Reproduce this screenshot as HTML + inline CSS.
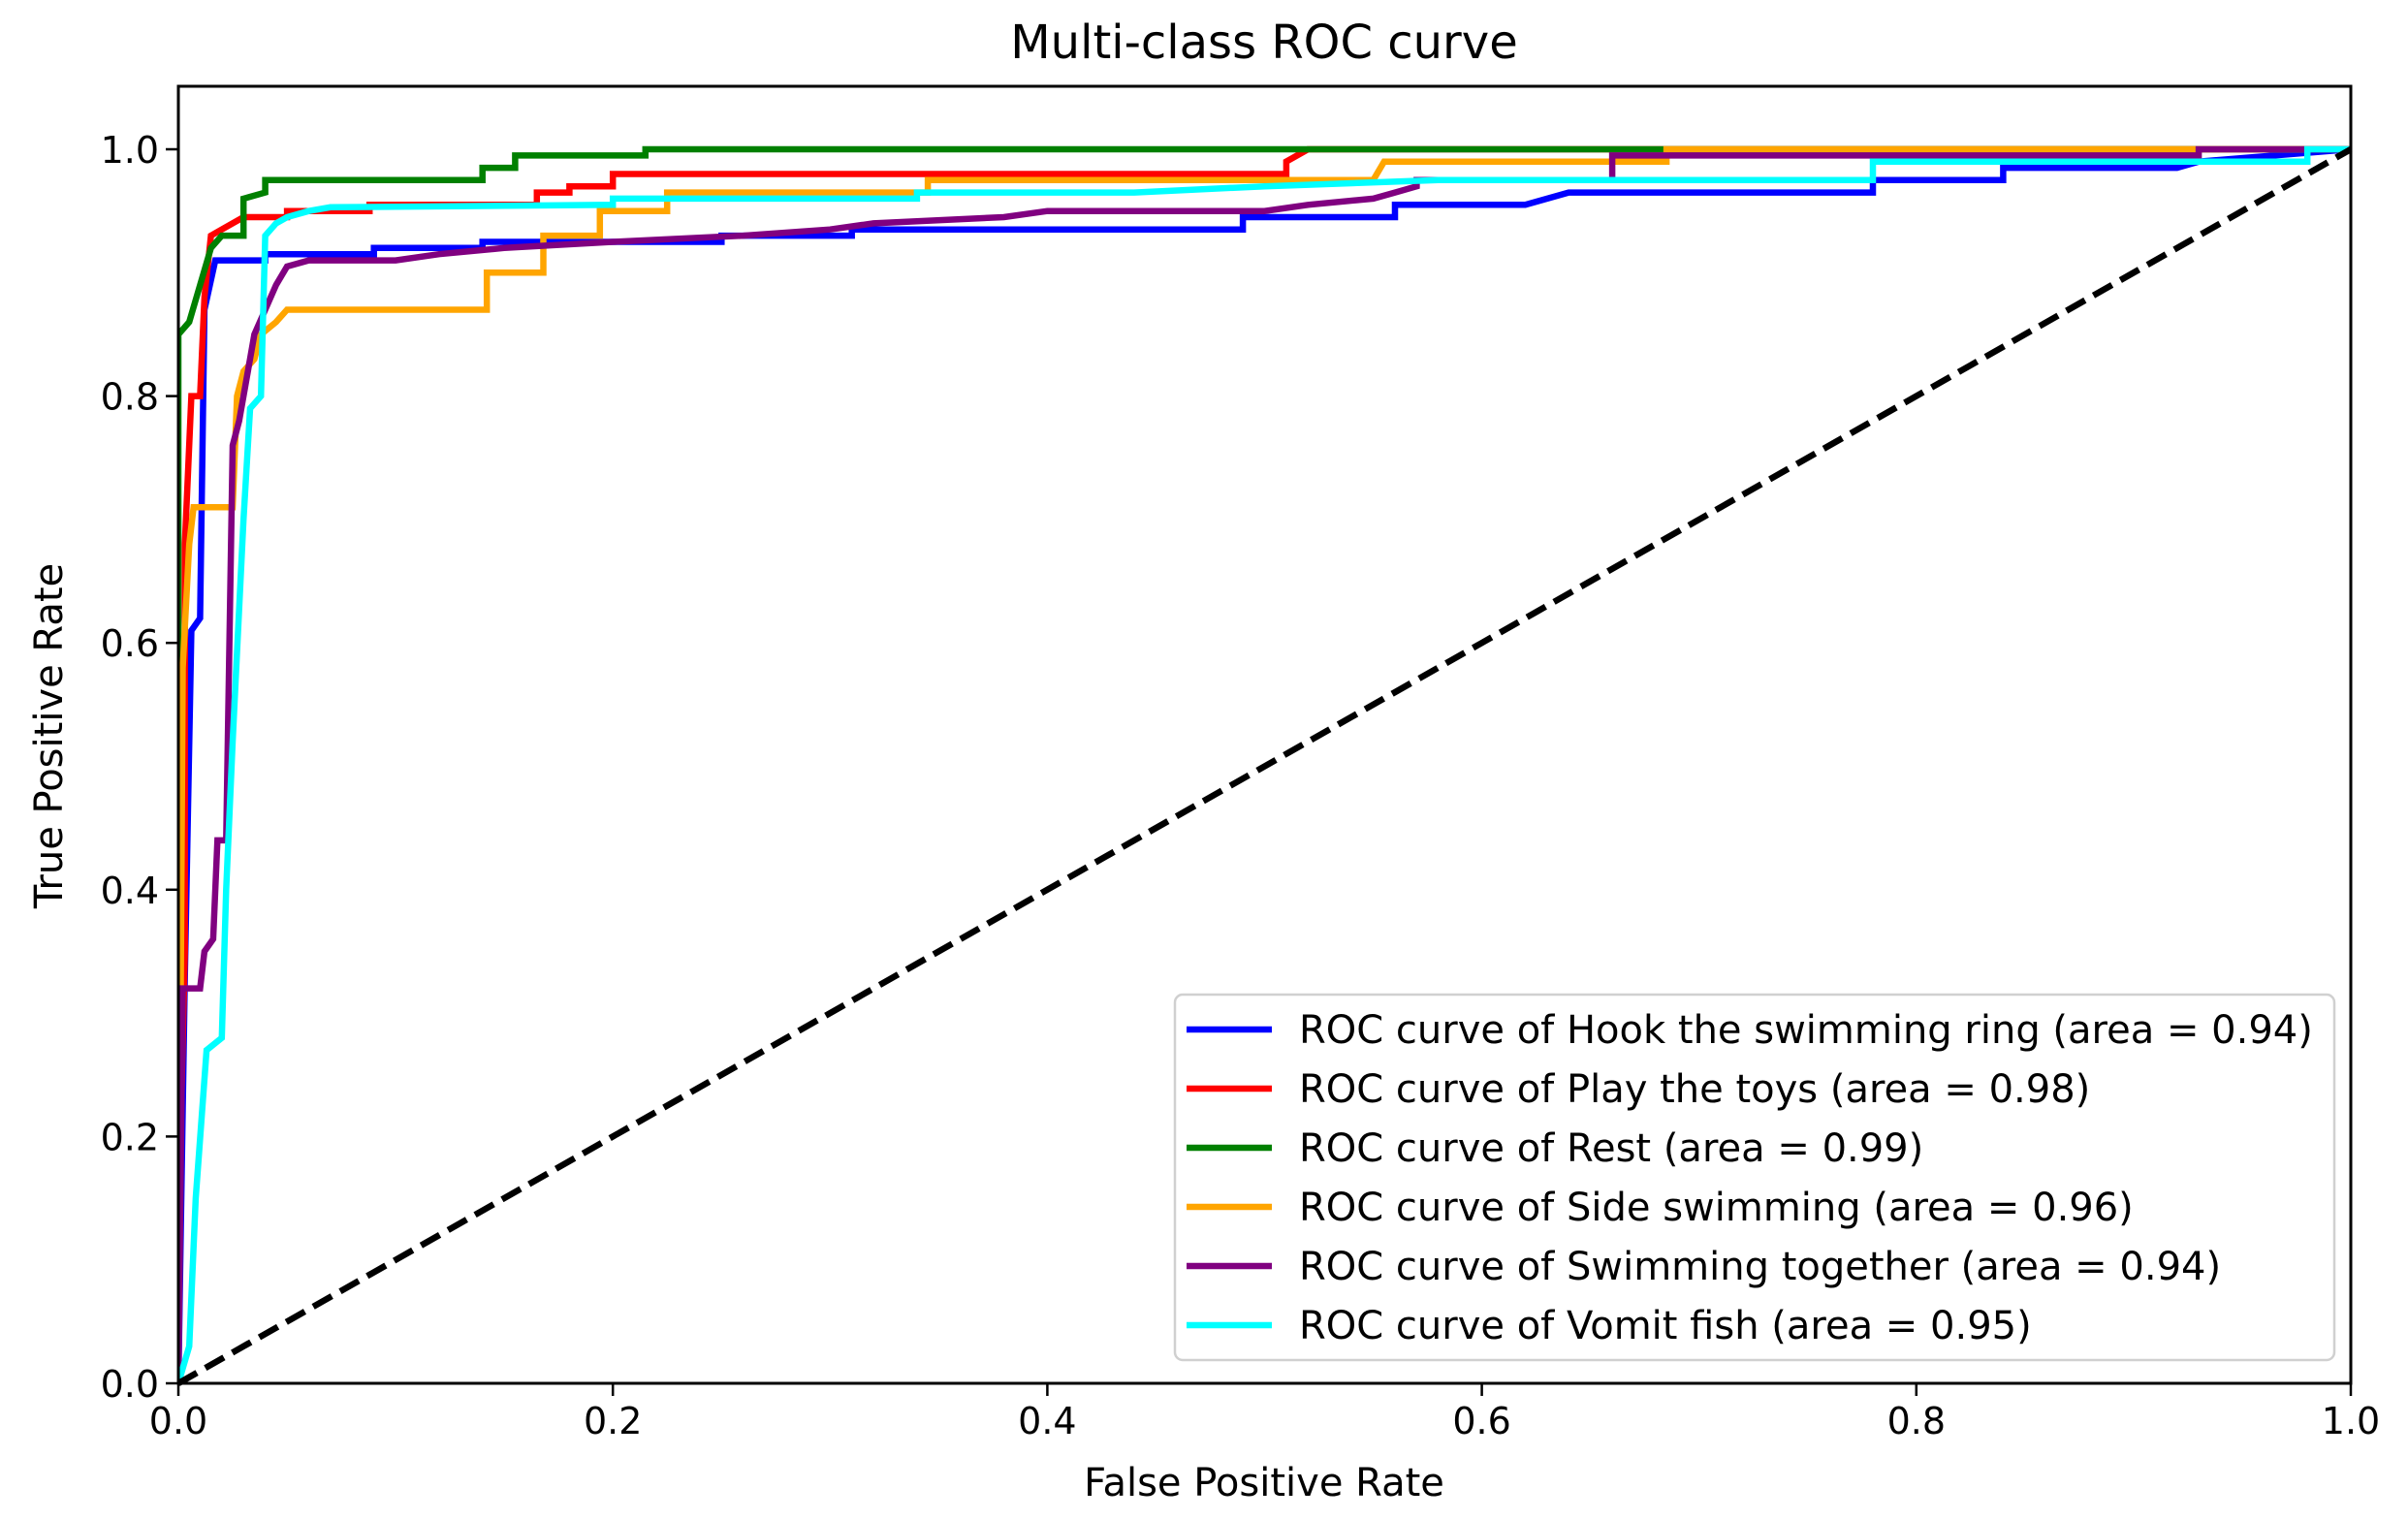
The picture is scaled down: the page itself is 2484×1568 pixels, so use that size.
<!DOCTYPE html>
<html><head><meta charset="utf-8"><style>
html,body{margin:0;padding:0;background:#fff}
svg{display:block;font-family:"DejaVu Sans","Liberation Sans",sans-serif}
</style></head><body>
<svg id="chart" width="2484" height="1568" viewBox="0 0 2484 1568" xmlns="http://www.w3.org/2000/svg">
<rect width="2484" height="1568" fill="#fff"/>
<text x="1304" y="60" font-size="48" text-anchor="middle" fill="#000">Multi-class ROC curve</text>
<text x="1304" y="1543" font-size="40" text-anchor="middle" fill="#000">False Positive Rate</text>
<text x="0" y="0" font-size="40" text-anchor="middle" fill="#000" transform="translate(64,759) rotate(-90)">True Positive Rate</text>
<g id="plot"></g>
</svg>
<script>
const seriesNames = ["Hook the swimming ring","Play the toys","Rest","Side swimming","Swimming together","Vomit fish"];
const seriesAreas = ["0.94","0.98","0.99","0.96","0.94","0.95"];
const seriesColors = ["#0000ff","#ff0000","#008000","#ffa500","#800080","#00ffff"];
const xTicks = [0,0.2,0.4,0.6,0.8,1.0];
const yTicks = [0,0.2,0.4,0.6,0.8,1.0];
const xTickLabels = ["0.0","0.2","0.4","0.6","0.8","1.0"];
const yTickLabels = ["0.0","0.2","0.4","0.6","0.8","1.0"];
const fprHook = [0,0.003,0.006,0.01,0.012,0.017,0.04,0.04,0.09,0.09,0.14,0.14,0.25,0.25,0.31,0.31,0.49,0.49,0.56,0.56,0.62,0.64,0.78,0.78,0.84,0.84,0.92,0.93,1];
const tprHook = [0,0.33,0.61,0.62,0.87,0.91,0.91,0.915,0.915,0.92,0.92,0.925,0.925,0.93,0.93,0.935,0.935,0.945,0.945,0.955,0.955,0.965,0.965,0.975,0.975,0.985,0.985,0.99,1];
const fprPlay = [0,0,0.003,0.003,0.006,0.01,0.012,0.015,0.02,0.03,0.05,0.05,0.088,0.088,0.165,0.165,0.18,0.18,0.2,0.2,0.51,0.51,0.52,1];
const tprPlay = [0,0.13,0.35,0.68,0.8,0.8,0.88,0.93,0.935,0.945,0.945,0.95,0.95,0.955,0.955,0.965,0.965,0.97,0.97,0.98,0.98,0.99,1.0,1];
const fprRest = [0,0,0.005,0.01,0.015,0.02,0.03,0.03,0.04,0.04,0.14,0.14,0.155,0.155,0.215,0.215,1];
const tprRest = [0,0.85,0.86,0.89,0.92,0.93,0.93,0.96,0.965,0.975,0.975,0.985,0.985,0.995,0.995,1.0,1];
const fprSide = [0,0.002,0.005,0.007,0.025,0.027,0.03,0.035,0.038,0.045,0.05,0.142,0.142,0.168,0.168,0.194,0.194,0.225,0.225,0.345,0.345,0.55,0.555,0.685,0.685,1];
const tprSide = [0,0.58,0.68,0.71,0.71,0.8,0.82,0.83,0.85,0.86,0.87,0.87,0.9,0.9,0.93,0.93,0.95,0.95,0.965,0.965,0.975,0.975,0.99,0.99,1.0,1];
const fprTogether = [0,0.002,0.01,0.012,0.016,0.018,0.022,0.025,0.028,0.03,0.035,0.04,0.045,0.05,0.06,0.1,0.12,0.15,0.2,0.26,0.3,0.32,0.38,0.4,0.5,0.52,0.55,0.56,0.57,0.57,0.66,0.66,0.93,0.93,1];
const tprTogether = [0,0.32,0.32,0.35,0.36,0.44,0.44,0.76,0.78,0.8,0.85,0.87,0.89,0.905,0.91,0.91,0.915,0.92,0.925,0.93,0.935,0.94,0.945,0.95,0.95,0.955,0.96,0.965,0.97,0.975,0.975,0.995,0.995,1.0,1];
const fprVomit = [0,0.005,0.008,0.013,0.02,0.022,0.025,0.03,0.033,0.038,0.04,0.045,0.05,0.06,0.07,0.2,0.2,0.34,0.34,0.44,0.5,0.58,0.78,0.78,0.98,0.98,1];
const tprVomit = [0,0.03,0.15,0.27,0.28,0.4,0.52,0.7,0.79,0.8,0.93,0.94,0.945,0.95,0.953,0.955,0.96,0.96,0.965,0.965,0.97,0.975,0.975,0.99,0.99,1.0,1];
const allFpr = [fprHook,fprPlay,fprRest,fprSide,fprTogether,fprVomit];
const allTpr = [tprHook,tprPlay,tprRest,tprSide,tprTogether,tprVomit];

const NS = "http://www.w3.org/2000/svg";
const L = 184, R = 2425, T = 89, B = 1427;
const Y1 = 154;
function sx(v){ return L + v*(R-L); }
function sy(v){ return B - v*(B-Y1); }
const g = document.getElementById('plot');
function mk(tag, attrs, parent){
  const e = document.createElementNS(NS, tag);
  for (const k in attrs) e.setAttribute(k, attrs[k]);
  (parent||g).appendChild(e);
  return e;
}
const clip = mk('clipPath', {id:'clip'});
mk('rect', {x:L, y:T, width:R-L, height:B-T}, clip);

for (let s = 0; s < allFpr.length; s++) {
  let d = '';
  for (let i = 0; i < allFpr[s].length; i++) d += (i ? 'L' : 'M') + sx(allFpr[s][i]).toFixed(1) + ',' + sy(allTpr[s][i]).toFixed(1);
  const p = mk('path', {d:d, fill:'none', stroke:seriesColors[s], 'stroke-width':6.5, 'stroke-linejoin':'miter', 'clip-path':'url(#clip)'});
  
  
}
const diag = mk('line', {x1:sx(0), y1:sy(0), x2:sx(1), y2:sy(1), stroke:'#000', 'stroke-width':6.5, 'stroke-dasharray':'22,10'});



const frame = mk('rect', {x:L, y:T, width:R-L, height:B-T, fill:'none', stroke:'#000', 'stroke-width':3});



for (let i = 0; i < xTicks.length; i++) {
  const x = sx(xTicks[i]);
  const t = mk('line', {x1:x, y1:B, x2:x, y2:B+13, stroke:'#000', 'stroke-width':2.5});
  
  
  const tl = mk('text', {x:x, y:B+52, 'font-size':38, 'text-anchor':'middle', fill:'#000'});
  tl.textContent = xTickLabels[i];
  
  
}
for (let i = 0; i < yTicks.length; i++) {
  const y = sy(yTicks[i]);
  const t = mk('line', {x1:L-13, y1:y, x2:L, y2:y, stroke:'#000', 'stroke-width':2.5});
  
  
  const tl = mk('text', {x:L-20, y:y+14, 'font-size':38, 'text-anchor':'end', fill:'#000'});
  tl.textContent = yTickLabels[i];
  
  
}

const leg = mk('g', {});


mk('rect', {x:1212, y:1026, width:1196, height:377, rx:8, fill:'#fff', 'fill-opacity':0.85, stroke:'#d0d0d0', 'stroke-width':2.5}, leg);
for (let s = 0; s < seriesNames.length; s++) {
  const y = 1062 + s*61;
  const e = mk('g', {}, leg);
  
  
  mk('line', {x1:1224, y1:y, x2:1312, y2:y, stroke:seriesColors[s], 'stroke-width':6.5}, e);
  const t = mk('text', {x:1340, y:y+14, 'font-size':40, fill:'#000'}, e);
  t.textContent = 'ROC curve of ' + seriesNames[s] + ' (area = ' + seriesAreas[s] + ')';
}
</script>
</body></html>
